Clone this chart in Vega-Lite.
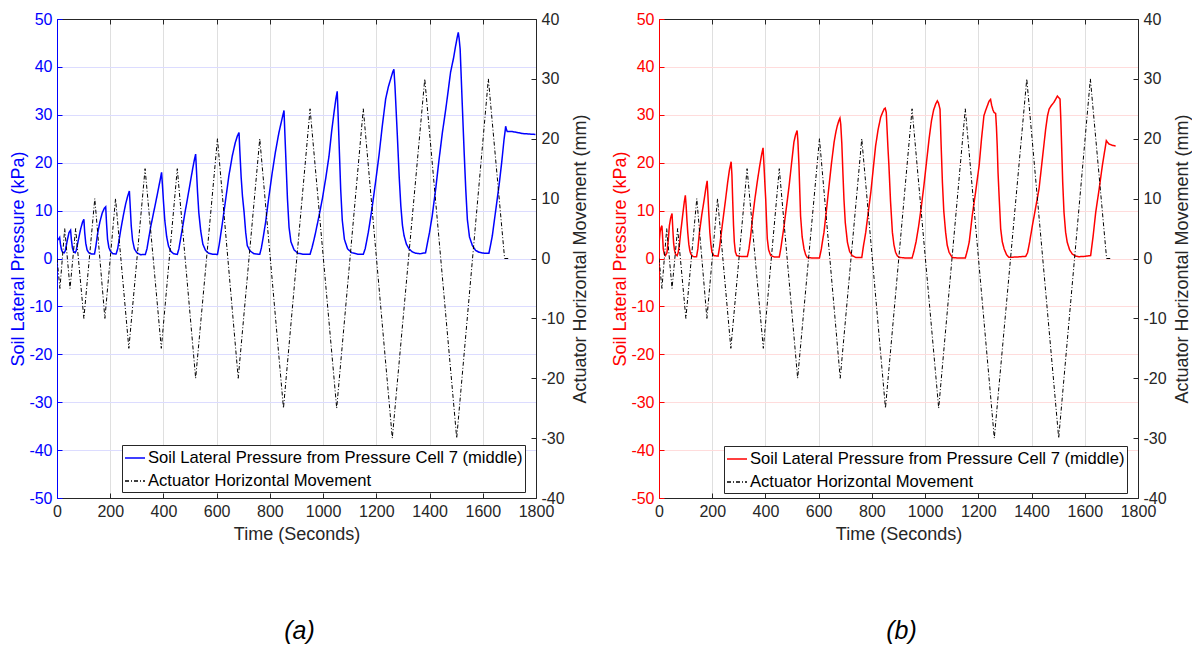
{
  "$schema": "https://vega.github.io/schema/vega-lite/v6.json",
  "padding": {"left": 9, "top": 11, "right": 5, "bottom": 5},
  "background": "white",
  "config": {
    "font": "Liberation Sans",
    "view": {"stroke": null},
    "axis": {
      "labelFontSize": 16,
      "titleFontSize": 18,
      "titleFontWeight": "normal",
      "labelColor": "#262626",
      "titleColor": "#262626",
      "domainColor": "#262626",
      "tickColor": "#262626",
      "tickSize": -5,
      "labelPadding": 10,
      "gridColor": "#dfdfdf",
      "gridOpacity": 1,
      "labelOverlap": false,
      "labelFlush": false,
      "labelExpr": "toString(datum.value)"
    },
    "title": {"font": "Liberation Sans", "fontSize": 25, "fontStyle": "italic", "fontWeight": "normal", "color": "#000000"}
  },
  "datasets": {
    "act": [
      {"t":0,"m":0},{"t":11,"m":-5},{"t":29,"m":5},{"t":49,"m":-5},{"t":70,"m":5},{"t":101,"m":-10},{"t":142,"m":10},{"t":180,"m":-10},{"t":220,"m":10},{"t":270,"m":-15},{"t":331,"m":15},{"t":392,"m":-15},{"t":452,"m":15},{"t":521,"m":-20},{"t":603,"m":20},{"t":681,"m":-20},{"t":762,"m":20},{"t":851,"m":-25},{"t":951,"m":25},{"t":1051,"m":-25},{"t":1151,"m":25},{"t":1260,"m":-30},{"t":1382,"m":30},{"t":1502,"m":-30},{"t":1621,"m":30},{"t":1682,"m":0},{"t":1703,"m":0}
    ],
    "pa": [
      {"t":0,"p":3.7},{"t":5,"p":4.0},{"t":10,"p":4.4},{"t":13,"p":3.0},{"t":17,"p":1.8},{"t":21,"p":1.3},{"t":27,"p":1.2},{"t":31,"p":1.6},{"t":38,"p":3.6},{"t":45,"p":5.4},{"t":51,"p":5.9},{"t":54,"p":4.0},{"t":58,"p":2.2},{"t":62,"p":1.5},{"t":68,"p":1.2},{"t":72,"p":1.6},{"t":80,"p":3.8},{"t":89,"p":6.2},{"t":96,"p":7.6},{"t":101,"p":8.2},{"t":104,"p":5.5},{"t":108,"p":3.2},{"t":113,"p":1.8},{"t":120,"p":1.15},{"t":130,"p":0.95},{"t":141,"p":0.95},{"t":146,"p":2.5},{"t":152,"p":5.0},{"t":161,"p":7.6},{"t":170,"p":9.5},{"t":178,"p":10.5},{"t":183,"p":10.8},{"t":186,"p":7.5},{"t":190,"p":4.0},{"t":195,"p":2.3},{"t":201,"p":1.5},{"t":210,"p":1.0},{"t":222,"p":0.95},{"t":228,"p":2.0},{"t":239,"p":5.8},{"t":249,"p":8.9},{"t":258,"p":11.4},{"t":266,"p":13.1},{"t":272,"p":14.1},{"t":275,"p":11.0},{"t":279,"p":6.8},{"t":284,"p":3.8},{"t":291,"p":2.0},{"t":300,"p":1.2},{"t":314,"p":0.8},{"t":332,"p":0.85},
      {"t":338,"p":2.0},{"t":345,"p":4.3},{"t":352,"p":6.6},{"t":362,"p":9.3},{"t":372,"p":12.0},{"t":382,"p":14.8},{"t":389,"p":16.8},{"t":393,"p":18.0},{"t":396,"p":15.5},{"t":400,"p":12.0},{"t":405,"p":8.0},{"t":412,"p":4.6},{"t":419,"p":2.6},{"t":428,"p":1.5},{"t":438,"p":1.0},{"t":452,"p":0.85},
      {"t":458,"p":2.0},{"t":465,"p":4.3},{"t":471,"p":6.2},{"t":480,"p":9.3},{"t":490,"p":12.4},{"t":500,"p":15.6},{"t":510,"p":18.8},{"t":517,"p":20.8},{"t":521,"p":21.8},{"t":524,"p":18.5},{"t":528,"p":14.0},{"t":533,"p":9.5},{"t":540,"p":5.8},{"t":548,"p":3.0},{"t":558,"p":1.7},{"t":570,"p":1.1},{"t":585,"p":0.9},{"t":603,"p":0.85},
      {"t":609,"p":2.7},{"t":620,"p":6.8},{"t":634,"p":12.4},{"t":646,"p":17.3},{"t":659,"p":21.5},{"t":670,"p":24.2},{"t":678,"p":25.6},{"t":684,"p":26.3},{"t":687,"p":22.5},{"t":692,"p":17.0},{"t":697,"p":13.0},{"t":703,"p":9.7},{"t":709,"p":5.5},{"t":715,"p":2.7},{"t":725,"p":1.6},{"t":740,"p":1.0},{"t":757,"p":0.9},{"t":762,"p":0.9},
      {"t":768,"p":2.2},{"t":776,"p":4.8},{"t":784,"p":7.6},{"t":796,"p":12.8},{"t":809,"p":18.0},{"t":821,"p":22.3},{"t":834,"p":26.3},{"t":845,"p":29.0},{"t":853,"p":30.9},{"t":856,"p":26.5},{"t":861,"p":19.5},{"t":866,"p":12.5},{"t":872,"p":6.5},{"t":879,"p":3.5},{"t":891,"p":1.8},{"t":905,"p":1.1},{"t":925,"p":0.9},{"t":951,"p":0.9},
      {"t":958,"p":2.2},{"t":966,"p":4.0},{"t":972,"p":5.5},{"t":985,"p":9.0},{"t":997,"p":12.4},{"t":1010,"p":16.8},{"t":1022,"p":21.3},{"t":1032,"p":26.5},{"t":1041,"p":30.5},{"t":1048,"p":33.3},{"t":1053,"p":34.9},{"t":1056,"p":30.5},{"t":1061,"p":22.5},{"t":1066,"p":14.5},{"t":1072,"p":8.0},{"t":1080,"p":4.0},{"t":1092,"p":2.0},{"t":1108,"p":1.2},{"t":1130,"p":0.9},{"t":1151,"p":0.9},
      {"t":1158,"p":2.0},{"t":1170,"p":5.5},{"t":1182,"p":9.8},{"t":1196,"p":15.5},{"t":1210,"p":21.5},{"t":1222,"p":27.5},{"t":1235,"p":33.3},{"t":1245,"p":35.8},{"t":1254,"p":37.5},{"t":1262,"p":39.0},{"t":1266,"p":39.5},{"t":1270,"p":36.0},{"t":1279,"p":25.6},{"t":1286,"p":17.0},{"t":1292,"p":11.0},{"t":1298,"p":7.0},{"t":1304,"p":4.8},{"t":1313,"p":3.0},{"t":1323,"p":2.0},{"t":1335,"p":1.4},{"t":1348,"p":1.1},{"t":1365,"p":1.0},{"t":1385,"p":1.2},
      {"t":1393,"p":3.5},{"t":1400,"p":5.5},{"t":1410,"p":8.9},{"t":1423,"p":14.5},{"t":1436,"p":20.8},{"t":1448,"p":26.2},{"t":1461,"p":31.2},{"t":1470,"p":35.0},{"t":1479,"p":38.9},{"t":1490,"p":41.8},{"t":1498,"p":44.4},{"t":1504,"p":46.2},{"t":1508,"p":47.2},{"t":1511,"p":46.0},{"t":1515,"p":43.7},{"t":1522,"p":33.5},{"t":1530,"p":22.2},{"t":1536,"p":14.5},{"t":1542,"p":8.2},{"t":1550,"p":4.5},{"t":1561,"p":2.7},{"t":1573,"p":1.7},{"t":1586,"p":1.3},{"t":1605,"p":1.1},{"t":1623,"p":1.1},
      {"t":1630,"p":3.0},{"t":1636,"p":4.8},{"t":1648,"p":9.8},{"t":1661,"p":15.2},{"t":1671,"p":20.0},{"t":1680,"p":24.9},{"t":1684,"p":26.6},{"t":1686,"p":27.6},{"t":1689,"p":26.9},{"t":1692,"p":26.5},{"t":1710,"p":26.5},{"t":1730,"p":26.3},{"t":1748,"p":26.1},{"t":1770,"p":26.0},{"t":1798,"p":25.9}
    ],
    "pb": [
      {"t":0,"p":3.0},{"t":4,"p":5.5},{"t":8,"p":6.5},{"t":11,"p":6.85},{"t":13,"p":5.0},{"t":16,"p":2.0},{"t":20,"p":0.9},{"t":24,"p":0.6},{"t":30,"p":1.2},{"t":35,"p":4.0},{"t":39,"p":6.85},{"t":44,"p":8.5},{"t":49,"p":9.4},{"t":52,"p":6.0},{"t":55,"p":3.2},{"t":58,"p":1.8},{"t":62,"p":0.9},{"t":68,"p":0.6},{"t":72,"p":1.2},{"t":77,"p":3.0},{"t":83,"p":6.2},{"t":90,"p":9.5},{"t":95,"p":11.8},{"t":99,"p":13.2},{"t":102,"p":11.0},{"t":105,"p":8.0},{"t":108,"p":5.5},{"t":112,"p":3.0},{"t":116,"p":1.6},{"t":120,"p":0.9},{"t":128,"p":0.4},{"t":141,"p":0.35},{"t":146,"p":2.0},{"t":152,"p":5.5},{"t":161,"p":9.2},{"t":170,"p":12.4},{"t":177,"p":15.0},{"t":181,"p":16.2},{"t":184,"p":13.0},{"t":187,"p":9.5},{"t":191,"p":5.5},{"t":195,"p":3.0},{"t":199,"p":1.3},{"t":206,"p":0.6},{"t":222,"p":0.5},{"t":228,"p":2.5},{"t":239,"p":7.5},{"t":249,"p":11.8},{"t":258,"p":15.9},{"t":265,"p":18.6},{"t":271,"p":20.2},{"t":274,"p":17.5},{"t":277,"p":12.0},{"t":280,"p":7.0},{"t":283,"p":3.5},{"t":287,"p":1.4},{"t":292,"p":0.6},{"t":310,"p":0.4},{"t":332,"p":0.4},
      {"t":338,"p":2.0},{"t":344,"p":4.5},{"t":351,"p":8.2},{"t":360,"p":12.3},{"t":369,"p":15.9},{"t":378,"p":19.2},{"t":386,"p":21.8},{"t":391,"p":23.1},{"t":394,"p":20.0},{"t":398,"p":15.5},{"t":401,"p":12.4},{"t":404,"p":8.0},{"t":407,"p":4.1},{"t":412,"p":1.8},{"t":420,"p":0.6},{"t":435,"p":0.3},{"t":452,"p":0.3},
      {"t":458,"p":2.2},{"t":464,"p":4.5},{"t":470,"p":6.85},{"t":480,"p":11.2},{"t":489,"p":15.2},{"t":498,"p":19.8},{"t":507,"p":24.3},{"t":513,"p":25.8},{"t":519,"p":26.7},{"t":522,"p":24.5},{"t":526,"p":19.4},{"t":529,"p":14.0},{"t":532,"p":8.9},{"t":538,"p":4.5},{"t":545,"p":2.0},{"t":551,"p":0.8},{"t":557,"p":0.2},{"t":580,"p":0.1},{"t":603,"p":0.1},
      {"t":610,"p":2.0},{"t":615,"p":3.8},{"t":620,"p":5.5},{"t":630,"p":10.5},{"t":639,"p":15.2},{"t":648,"p":19.8},{"t":658,"p":24.3},{"t":665,"p":26.5},{"t":670,"p":27.7},{"t":676,"p":28.8},{"t":680,"p":29.3},{"t":683,"p":28.0},{"t":687,"p":24.0},{"t":691,"p":18.0},{"t":695,"p":12.4},{"t":700,"p":7.5},{"t":708,"p":3.4},{"t":716,"p":1.5},{"t":726,"p":0.6},{"t":740,"p":0.2},{"t":762,"p":0.2},
      {"t":768,"p":2.5},{"t":777,"p":5.5},{"t":786,"p":9.5},{"t":796,"p":13.8},{"t":805,"p":18.7},{"t":814,"p":23.5},{"t":823,"p":26.8},{"t":833,"p":29.5},{"t":841,"p":30.6},{"t":846,"p":31.2},{"t":850,"p":31.4},{"t":854,"p":30.5},{"t":857,"p":27.0},{"t":860,"p":23.5},{"t":864,"p":19.4},{"t":870,"p":12.0},{"t":877,"p":5.5},{"t":883,"p":2.8},{"t":889,"p":1.3},{"t":895,"p":0.6},{"t":902,"p":0.25},{"t":925,"p":0.1},{"t":951,"p":0.1},
      {"t":958,"p":1.5},{"t":966,"p":3.5},{"t":975,"p":6.5},{"t":985,"p":10.5},{"t":995,"p":15.0},{"t":1005,"p":20.0},{"t":1015,"p":25.0},{"t":1024,"p":28.8},{"t":1032,"p":31.0},{"t":1040,"p":32.3},{"t":1046,"p":32.9},{"t":1050,"p":32.5},{"t":1056,"p":31.2},{"t":1060,"p":24.0},{"t":1065,"p":15.9},{"t":1070,"p":10.0},{"t":1077,"p":5.5},{"t":1083,"p":2.8},{"t":1090,"p":1.3},{"t":1102,"p":0.2},{"t":1125,"p":0.1},{"t":1151,"p":0.1},
      {"t":1158,"p":1.5},{"t":1166,"p":3.5},{"t":1177,"p":8.9},{"t":1190,"p":14.0},{"t":1203,"p":19.4},{"t":1212,"p":25.0},{"t":1221,"p":29.8},{"t":1228,"p":31.0},{"t":1234,"p":31.9},{"t":1240,"p":32.8},{"t":1246,"p":33.2},{"t":1250,"p":32.0},{"t":1255,"p":31.0},{"t":1259,"p":30.5},{"t":1265,"p":30.3},{"t":1268,"p":27.5},{"t":1271,"p":23.5},{"t":1274,"p":18.0},{"t":1278,"p":13.1},{"t":1284,"p":6.2},{"t":1290,"p":3.5},{"t":1297,"p":2.0},{"t":1306,"p":0.8},{"t":1315,"p":0.25},{"t":1340,"p":0.3},{"t":1378,"p":0.45},
      {"t":1385,"p":1.2},{"t":1393,"p":3.5},{"t":1403,"p":6.85},{"t":1415,"p":10.5},{"t":1428,"p":14.5},{"t":1440,"p":20.5},{"t":1453,"p":27.0},{"t":1460,"p":29.8},{"t":1466,"p":31.2},{"t":1475,"p":32.0},{"t":1484,"p":32.6},{"t":1491,"p":33.3},{"t":1497,"p":33.9},{"t":1502,"p":33.6},{"t":1507,"p":33.3},{"t":1510,"p":29.0},{"t":1513,"p":23.5},{"t":1517,"p":16.0},{"t":1522,"p":9.6},{"t":1528,"p":5.5},{"t":1534,"p":3.4},{"t":1543,"p":1.8},{"t":1553,"p":0.94},{"t":1565,"p":0.5},{"t":1578,"p":0.38},{"t":1600,"p":0.45},{"t":1622,"p":0.6},
      {"t":1631,"p":4.5},{"t":1641,"p":9.6},{"t":1654,"p":14.5},{"t":1666,"p":19.4},{"t":1675,"p":22.5},{"t":1681,"p":24.6},{"t":1686,"p":24.2},{"t":1691,"p":23.9},{"t":1705,"p":23.6},{"t":1716,"p":23.5}
    ]
  },
  "bounds": "flush",
  "spacing": 123,
  "resolve": {
    "scale": {"color": "independent", "strokeDash": "independent"},
    "legend": {"color": "independent", "strokeDash": "independent"}
  },
  "hconcat": [
    {
      "width": 479,
      "height": 479,
      "title": {"text": "(a)", "orient": "bottom", "frame": "bounds", "anchor": "middle", "offset": 76},
      "resolve": {"scale": {"y": "independent"}, "axis": {"x": "independent", "y": "independent"}},
      "layer": [
        {
          "data": {"name": "pa"},
          "mark": {"type": "line", "strokeWidth": 1.5, "clip": true},
          "encoding": {
            "x": {"field": "t", "type": "quantitative",
                  "scale": {"domain": [0, 1800], "nice": false, "zero": false},
                  "axis": {"orient": "bottom", "title": "Time (Seconds)", "values": [0,200,400,600,800,1000,1200,1400,1600,1800], "grid": true, "titlePadding": 6}},
            "y": {"field": "p", "type": "quantitative",
                  "scale": {"domain": [-50, 50], "nice": false, "zero": false},
                  "axis": {"orient": "left", "title": "Soil Lateral Pressure (kPa)", "values": [-50,-40,-30,-20,-10,0,10,20,30,40,50], "grid": true,
                           "gridColor": "#dcdcff", "domainColor": "#0000ff", "tickColor": "#0000ff", "labelColor": "#0000ff", "titleColor": "#0000ff", "titlePadding": 1}},
            "color": {"datum": "Soil Lateral Pressure from Pressure Cell 7 (middle)",
                      "scale": {"domain": ["Soil Lateral Pressure from Pressure Cell 7 (middle)", "Actuator Horizontal Movement"], "range": ["#0000ff", "#000000"]},
                      "legend": {"orient": "none", "legendX": 65, "legendY": 426, "title": null, "fillColor": "white", "strokeColor": "#262626",
                                 "padding": 2, "rowPadding": 3, "labelFontSize": 16.6, "labelColor": "#000000", "labelLimit": 600,
                                 "symbolType": "stroke", "symbolSize": 400, "symbolStrokeWidth": 1.5, "labelOffset": 2}},
            "strokeDash": {"datum": "Soil Lateral Pressure from Pressure Cell 7 (middle)",
                           "scale": {"domain": ["Soil Lateral Pressure from Pressure Cell 7 (middle)", "Actuator Horizontal Movement"], "range": [[1, 0], [4, 2, 1, 2]]},
                           "legend": {"orient": "none", "legendX": 65, "legendY": 426, "title": null}}
          }
        },
        {
          "data": {"name": "act"},
          "mark": {"type": "line", "strokeWidth": 1, "clip": true},
          "encoding": {
            "x": {"field": "t", "type": "quantitative",
                  "axis": {"orient": "top", "title": null, "labels": false, "grid": false, "values": [0,200,400,600,800,1000,1200,1400,1600,1800]}},
            "y": {"field": "m", "type": "quantitative",
                  "scale": {"domain": [-40, 40], "nice": false, "zero": false},
                  "axis": {"orient": "right", "title": "Actuator Horizontal Movement (mm)", "values": [-40,-30,-20,-10,0,10,20,30,40], "grid": false,
                           "titleAngle": 270, "titleBaseline": "top", "titlePadding": 7}},
            "color": {"datum": "Actuator Horizontal Movement"},
            "strokeDash": {"datum": "Actuator Horizontal Movement"}
          }
        }
      ]
    },
    {
      "width": 479,
      "height": 479,
      "title": {"text": "(b)", "orient": "bottom", "frame": "bounds", "anchor": "middle", "offset": 76},
      "resolve": {"scale": {"y": "independent"}, "axis": {"x": "independent", "y": "independent"}},
      "layer": [
        {
          "data": {"name": "pb"},
          "mark": {"type": "line", "strokeWidth": 1.5, "clip": true},
          "encoding": {
            "x": {"field": "t", "type": "quantitative",
                  "scale": {"domain": [0, 1800], "nice": false, "zero": false},
                  "axis": {"orient": "bottom", "title": "Time (Seconds)", "values": [0,200,400,600,800,1000,1200,1400,1600,1800], "grid": true, "titlePadding": 6}},
            "y": {"field": "p", "type": "quantitative",
                  "scale": {"domain": [-50, 50], "nice": false, "zero": false},
                  "axis": {"orient": "left", "title": "Soil Lateral Pressure (kPa)", "values": [-50,-40,-30,-20,-10,0,10,20,30,40,50], "grid": true,
                           "gridColor": "#ffdcdc", "domainColor": "#ff0000", "tickColor": "#ff0000", "labelColor": "#ff0000", "titleColor": "#ff0000", "titlePadding": 1}},
            "color": {"datum": "Soil Lateral Pressure from Pressure Cell 7 (middle)",
                      "scale": {"domain": ["Soil Lateral Pressure from Pressure Cell 7 (middle)", "Actuator Horizontal Movement"], "range": ["#ff0000", "#000000"]},
                      "legend": {"orient": "none", "legendX": 65, "legendY": 427, "title": null, "fillColor": "white", "strokeColor": "#262626",
                                 "padding": 2, "rowPadding": 3, "labelFontSize": 16.6, "labelColor": "#000000", "labelLimit": 600,
                                 "symbolType": "stroke", "symbolSize": 400, "symbolStrokeWidth": 1.5, "labelOffset": 2}},
            "strokeDash": {"datum": "Soil Lateral Pressure from Pressure Cell 7 (middle)",
                           "scale": {"domain": ["Soil Lateral Pressure from Pressure Cell 7 (middle)", "Actuator Horizontal Movement"], "range": [[1, 0], [4, 2, 1, 2]]},
                           "legend": {"orient": "none", "legendX": 65, "legendY": 427, "title": null}}
          }
        },
        {
          "data": {"name": "act"},
          "mark": {"type": "line", "strokeWidth": 1, "clip": true},
          "encoding": {
            "x": {"field": "t", "type": "quantitative",
                  "axis": {"orient": "top", "title": null, "labels": false, "grid": false, "values": [0,200,400,600,800,1000,1200,1400,1600,1800]}},
            "y": {"field": "m", "type": "quantitative",
                  "scale": {"domain": [-40, 40], "nice": false, "zero": false},
                  "axis": {"orient": "right", "title": "Actuator Horizontal Movement (mm)", "values": [-40,-30,-20,-10,0,10,20,30,40], "grid": false,
                           "titleAngle": 270, "titleBaseline": "top", "titlePadding": 7}},
            "color": {"datum": "Actuator Horizontal Movement"},
            "strokeDash": {"datum": "Actuator Horizontal Movement"}
          }
        }
      ]
    }
  ]
}
